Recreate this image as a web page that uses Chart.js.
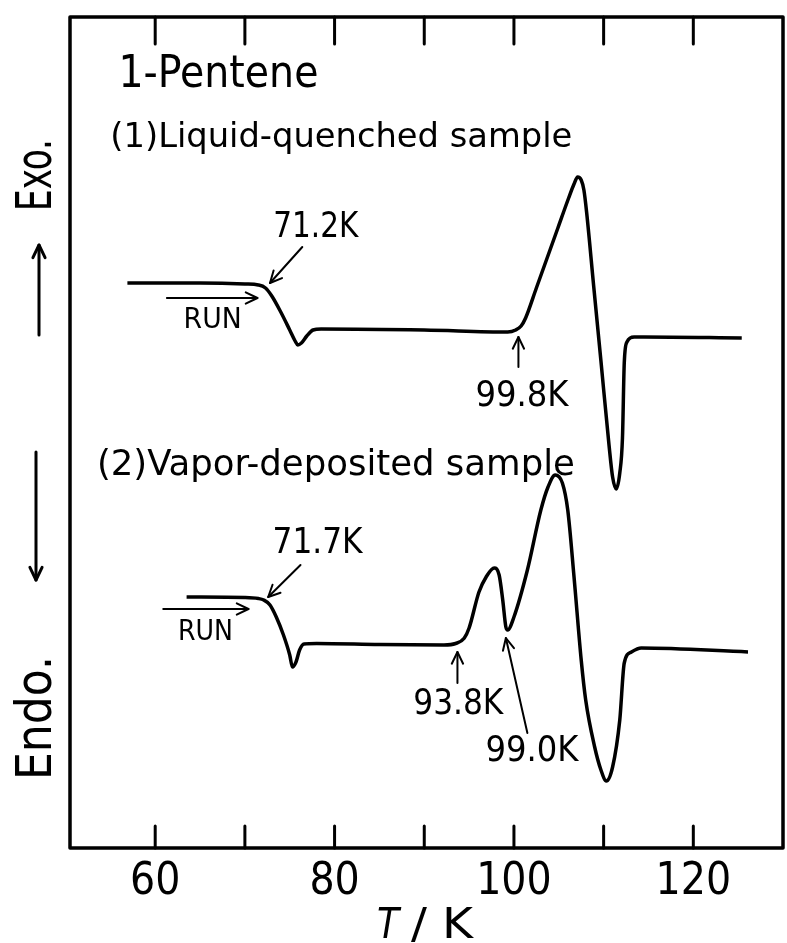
<!DOCTYPE html>
<html>
<head>
<meta charset="utf-8">
<script src="https://cdn.jsdelivr.net/npm/chart.js@4.4.1/dist/chart.umd.min.js"></script>
<style>
  html, body { margin: 0; padding: 0; background: #fff; }
  #wrap { width: 787px; height: 943px; }
</style>
</head>
<body>
<div id="wrap"><canvas id="dsc"></canvas></div>
<script>
// temperature ticks (K)
const tickValues = [60, 70, 80, 90, 100, 110, 120];
const tickLabels = [60, 80, 100, 120];

// (1) liquid-quenched sample, signal in arbitrary units
const tLiquid = [56.9, 65, 70, 71.5, 72.3, 73, 74, 75, 75.6, 75.9,
  76.3, 76.9, 77.6, 78.5, 90, 99.3, 100.2, 100.8, 101.3, 102.5,
  103.7, 104.9, 106.1, 106.7, 107.1, 107.5, 107.8, 108.1, 108.9, 109.7,
  110.6, 111.0, 111.4, 111.8, 112.1, 112.3, 112.6, 113.4, 114.5, 125.4];
const sLiquid = [56.5, 56.5, 56.4, 56.3, 56.0, 55.2, 53.6, 51.8, 50.7, 50.3,
  50.5, 51.2, 51.8, 51.9, 51.8, 51.6, 51.8, 52.2, 53.0, 56.0,
  59.0, 62.0, 65.0, 66.4, 67.1, 66.8, 65.8, 63.6, 56.1, 48.7,
  40.3, 37.1, 35.9, 37.5, 41.0, 48.5, 50.6, 51.1, 51.1, 51.0];

// (2) vapor-deposited sample
const tVapor = [63.5, 70, 71.5, 72.1, 72.8, 73.5, 74.3, 75.0, 75.3, 75.7,
  76.1, 76.6, 78, 85, 92.2, 93.5, 94.45, 95.0, 96.1, 96.9,
  97.8, 98.35, 98.75, 99.1, 99.3, 100.0, 101.5, 103.0, 103.8, 104.6,
  105.4, 106.0, 106.7, 107.5, 108.0, 109.0, 109.7, 110.3, 111.0, 111.8,
  112.3, 113.1, 114.2, 126.1];
const sVapor = [25.1, 25.05, 24.95, 24.8, 24.3, 23.1, 21.3, 19.3, 18.1, 18.6,
  19.8, 20.4, 20.45, 20.35, 20.3, 20.45, 20.97, 22.0, 25.6, 27.1,
  28.0, 27.3, 24.8, 22.1, 21.8, 23.1, 27.8, 33.8, 36.1, 37.3,
  36.5, 33.8, 27.1, 18.8, 14.8, 10.1, 7.8, 6.7, 8.1, 12.8,
  18.5, 19.6, 20.0, 19.6];

// text notes in data coords: [text, T, signal, size, width, align]
const notes = [
  ['1-Pentene', 55.9, 76.1, 45, 200, 'left'],
  ['(1)Liquid-quenched sample', 55.0, 70.1, 34, 462, 'left'],
  ['(2)Vapor-deposited sample', 53.5, 37.3, 36, 478, 'left'],
  ['71.2K', 77.9, 62.0, 35, 85, 'center'],
  ['RUN', 66.4, 52.7, 28, 58, 'center'],
  ['99.8K', 100.9, 45.1, 36, 93, 'center'],
  ['71.7K', 78.1, 30.4, 35, 90, 'center'],
  ['RUN', 65.6, 21.5, 28, 55, 'center'],
  ['93.8K', 93.8, 14.3, 36, 90, 'center'],
  ['99.0K', 102.0, 9.6, 36, 93, 'center']
];
// arrows [T1, s1, T2, s2] head at the second point
const arrows = [
  [76.4, 60.1, 72.8, 56.5],
  [61.3, 55.0, 71.4, 55.0],
  [100.5, 48.1, 100.5, 51.1],
  [76.2, 28.3, 72.6, 25.1],
  [60.9, 23.9, 70.4, 23.9],
  [93.7, 16.5, 93.7, 19.6],
  [101.5, 11.5, 99.1, 21.0]
];

const FONT = '"Liberation Sans Narrow", "DejaVu Sans Condensed", "Liberation Sans", sans-serif';

function fitText(ctx, str, x, y, size, width, align, style) {
  ctx.save();
  ctx.font = (style || '') + ' ' + size + 'px ' + FONT;
  const w = ctx.measureText(str).width;
  ctx.translate(x, y);
  ctx.scale(width / w, 1);
  ctx.textAlign = align;
  ctx.fillText(str, 0, 0);
  ctx.restore();
}

function arrow(ctx, x1, y1, x2, y2, head) {
  ctx.beginPath();
  ctx.moveTo(x1, y1);
  ctx.lineTo(x2, y2);
  ctx.stroke();
  const a = Math.atan2(y2 - y1, x2 - x1);
  ctx.beginPath();
  ctx.moveTo(x2 - head * Math.cos(a - 0.45), y2 - head * Math.sin(a - 0.45));
  ctx.lineTo(x2, y2);
  ctx.lineTo(x2 - head * Math.cos(a + 0.45), y2 - head * Math.sin(a + 0.45));
  ctx.stroke();
}

const decor = {
  id: 'decor',
  afterDraw(chart) {
    const ctx = chart.ctx;
    const xs = chart.scales.x, ys = chart.scales.y;
    const a = chart.chartArea;
    ctx.save();
    ctx.strokeStyle = '#000';
    ctx.fillStyle = '#000';
    ctx.lineCap = 'round';
    ctx.lineJoin = 'round';

    // frame + inward ticks
    ctx.lineWidth = 3.5;
    ctx.strokeRect(a.left, a.top, a.right - a.left, a.bottom - a.top);
    ctx.lineWidth = 3;
    tickValues.forEach(v => {
      const px = xs.getPixelForValue(v);
      ctx.beginPath();
      ctx.moveTo(px, a.bottom); ctx.lineTo(px, a.bottom - 22);
      ctx.moveTo(px, a.top); ctx.lineTo(px, a.top + 27);
      ctx.stroke();
    });

    // annotations
    notes.forEach(n => {
      const px = xs.getPixelForValue(n[1]), py = ys.getPixelForValue(n[2]);
      ctx.textBaseline = n[5] === 'center' ? 'middle' : 'alphabetic';
      fitText(ctx, n[0], px, py, n[3], n[4], n[5]);
    });
    ctx.lineWidth = 2;
    arrows.forEach(r => {
      arrow(ctx, xs.getPixelForValue(r[0]), ys.getPixelForValue(r[1]),
        xs.getPixelForValue(r[2]), ys.getPixelForValue(r[3]), 13);
    });

    // Exo. / Endo. on the left
    const lx = a.left - 31;
    ctx.lineWidth = 3;
    arrow(ctx, lx, ys.getPixelForValue(51.3), lx, ys.getPixelForValue(60.3), 14);
    arrow(ctx, lx - 3, ys.getPixelForValue(39.6), lx - 3, ys.getPixelForValue(26.8), 14);
    ctx.textBaseline = 'middle';
    [['Exo.', 67.3, 72], ['Endo.', 13.0, 124]].forEach(e => {
      ctx.save();
      ctx.translate(lx - 1, ys.getPixelForValue(e[1]));
      ctx.rotate(-Math.PI / 2);
      fitText(ctx, e[0], 0, 0, 50, e[2], 'center');
      ctx.restore();
    });

    // axis title T / K
    ctx.textBaseline = 'alphabetic';
    const ty = a.bottom + 90;
    fitText(ctx, 'T', 388, ty, 42, 22, 'center', 'italic');
    fitText(ctx, '/ K', 442, ty, 42, 62, 'center');
    ctx.restore();
  }
};

new Chart(document.getElementById('dsc'), {
  type: 'line',
  data: {
    datasets: [
      {
        label: '(1) Liquid-quenched sample',
        data: tLiquid.map((t, i) => ({x: t, y: sLiquid[i]})),
        borderColor: '#000',
        borderWidth: 3.5,
        pointRadius: 0,
        cubicInterpolationMode: 'monotone'
      },
      {
        label: '(2) Vapor-deposited sample',
        data: tVapor.map((t, i) => ({x: t, y: sVapor[i]})),
        borderColor: '#000',
        borderWidth: 3.5,
        pointRadius: 0,
        cubicInterpolationMode: 'monotone'
      }
    ]
  },
  options: {
    responsive: true,
    maintainAspectRatio: false,
    animation: false,
    layout: { padding: { left: 70, right: 4, top: 17, bottom: 0 } },
    plugins: { legend: { display: false }, tooltip: { enabled: false } },
    scales: {
      x: {
        type: 'linear',
        min: 50.5,
        max: 130,
        grid: { display: false, drawTicks: false },
        border: { display: false },
        afterBuildTicks: s => { s.ticks = tickValues.map(v => ({value: v})); },
        afterFit: s => { s.height = 95; },
        ticks: {
          color: '#000',
          padding: 8,
          maxRotation: 0,
          autoSkip: false,
          font: { family: FONT, size: 44 },
          callback: v => tickLabels.includes(v) ? String(v) : ''
        }
      },
      y: {
        display: false,
        min: 0,
        max: 83.1
      }
    }
  },
  plugins: [decor]
});
</script>
</body>
</html>
